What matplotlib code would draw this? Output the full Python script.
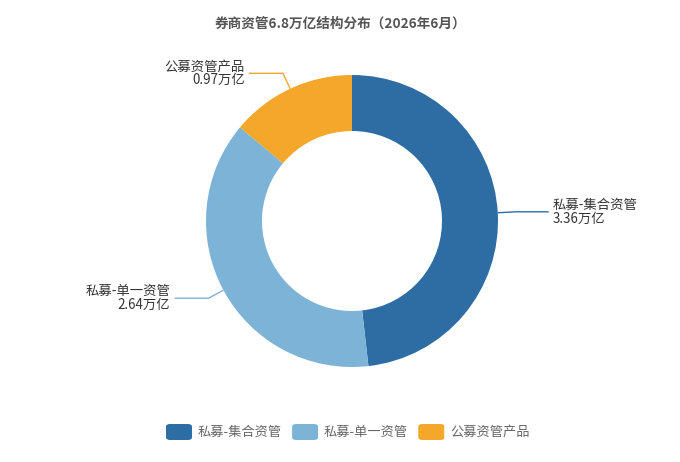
import numpy as np
import matplotlib.pyplot as plt
from matplotlib.patches import FancyBboxPatch

plt.rcParams['font.family'] = ['Noto Sans CJK SC', 'DejaVu Sans']

# data
categories = ['私募-集合资管', '私募-单一资管', '公募资管产品']
values = [3.36, 2.64, 0.97]
value_labels = ['3.36万亿', '2.64万亿', '0.97万亿']
colors = ['#2e6da4', '#7eb3d8', '#f4a72a']
title = '券商资管6.8万亿结构分布（2026年6月）'

W, H = 680, 462
fig = plt.figure(figsize=(W / 100, H / 100), dpi=100)

# pie axes: centre at (352, 221) px, outer radius 145 px
cx, cy, half = 352, 221, 170
ax = fig.add_axes([(cx - half) / W, (H - cy - half) / H, 2 * half / W, 2 * half / H])

R = 146
wedges, _ = ax.pie(values, colors=colors, radius=R, startangle=90, counterclock=False,
                   wedgeprops=dict(width=R - 90, linewidth=0))
ax.set_xlim(-half, half)
ax.set_ylim(-half, half)
ax.set_aspect('equal')
ax.axis('off')

# leader lines + labels
for w, name, vlab, col in zip(wedges, categories, value_labels, colors):
    ang = np.deg2rad((w.theta1 + w.theta2) / 2)
    x0, y0 = R * np.cos(ang), R * np.sin(ang)
    x1, y1 = (R + 17) * np.cos(ang), (R + 17) * np.sin(ang)
    side = 1 if np.cos(ang) >= 0 else -1
    x2 = x1 + side * 34
    ax.plot([x0, x1, x2], [y0, y1, y1], color=col, lw=1, solid_capstyle='butt',
            clip_on=False)
    ha = 'left' if side > 0 else 'right'
    ax.text(x2 + side * 4, y1, name + '\n' + vlab, ha=ha, va='center', fontsize=9.6,
            color='#333333', linespacing=0.98, multialignment=ha, clip_on=False)

fig.text(0.5, 1 - 24 / H, title, ha='center', va='center', fontsize=9.8,
         fontweight='bold', color='#555555')

# legend drawn by hand to match the rounded swatches
lx, ly = 166, 432
for name, col in zip(categories, colors):
    fig.patches.append(FancyBboxPatch((lx / W, (H - ly - 8) / H), 26 / W, 16 / H,
                                      boxstyle='round,pad=0,rounding_size=0.006',
                                      transform=fig.transFigure, facecolor=col,
                                      edgecolor='none'))
    t = fig.text((lx + 32) / W, 1 - ly / H, name, ha='left', va='center',
                 fontsize=9.5, color='#666666')
    fig.canvas.draw()
    bb = t.get_window_extent()
    lx = bb.x1 + 10

fig.savefig('out.png', dpi=100)
